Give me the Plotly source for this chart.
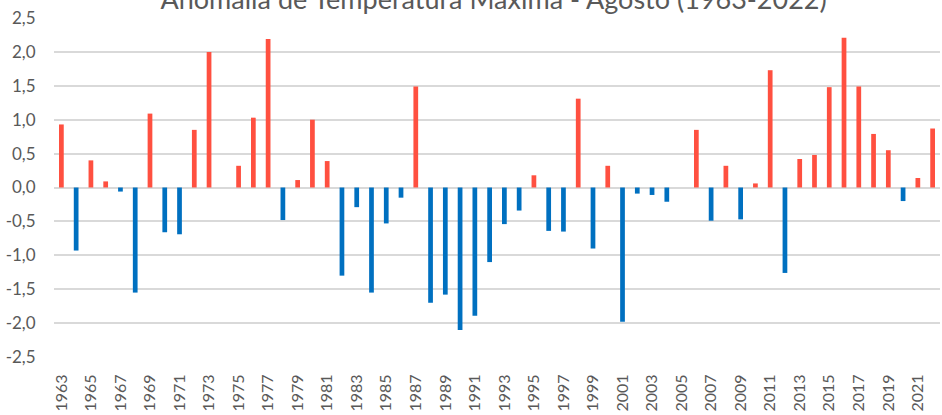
import plotly.graph_objects as go

years = list(range(1963, 2023))
anomalies = [
    0.93, -0.93, 0.40, 0.09, -0.06, -1.55, 1.09, -0.66, -0.69, 0.85,
    2.00, 0.00, 0.32, 1.03, 2.19, -0.48, 0.11, 1.00, 0.39, -1.30,
    -0.29, -1.55, -0.53, -0.15, 1.49, -1.70, -1.58, -2.10, -1.89, -1.10,
    -0.54, -0.34, 0.18, -0.64, -0.65, 1.31, -0.90, 0.32, -1.98, -0.09,
    -0.11, -0.21, 0.00, 0.85, -0.49, 0.32, -0.47, 0.06, 1.73, -1.26,
    0.42, 0.48, 1.48, 2.21, 1.49, 0.79, 0.55, -0.20, 0.14, 0.87,
]
y_ticks = [-2.5, -2.0, -1.5, -1.0, -0.5, 0.0, 0.5, 1.0, 1.5, 2.0, 2.5]
y_tick_labels = [f"{v:.1f}".replace(".", ",") for v in y_ticks]
x_ticks = years[::2]

RED = "#FF5040"
BLUE = "#0070C0"
colors = [RED if v > 0 else BLUE for v in anomalies]

fig = go.Figure(go.Bar(
    x=years, y=anomalies, marker=dict(color=colors, line=dict(width=0)),
    width=0.32,
))

font_family = "Lato, 'Open Sans', sans-serif"
fig.update_layout(
    width=942, height=415,
    margin=dict(l=54, r=2, t=18, b=58),
    paper_bgcolor="white", plot_bgcolor="white",
    showlegend=False,
    font=dict(family=font_family, color="#595959"),
    title=dict(
        text="Anomalia de Temperatura Máxima - Agosto (1963-2022)",
        x=0.524, xanchor="center", xref="container",
        y=1.0, yanchor="middle", yref="container",
        font=dict(size=27, color="#595959", family=font_family),
    ),
    xaxis=dict(
        range=[1962.5, 2022.5],
        tickvals=x_ticks, ticktext=[str(y) for y in x_ticks],
        tickangle=-90, tickfont=dict(size=16, color="#595959"),
        showgrid=False, zeroline=False, showline=False,
        ticks="outside", ticklen=10, tickcolor="rgba(0,0,0,0)",
    ),
    yaxis=dict(
        range=[-2.5, 2.5],
        tickvals=y_ticks, ticktext=y_tick_labels,
        tickfont=dict(size=17, color="#595959"),
        showgrid=True, gridcolor="#D9D9D9", gridwidth=2,
        zeroline=False, showline=False,
        ticks="outside", ticklen=14, tickcolor="rgba(0,0,0,0)",
    ),
)

fig.write_html(
    "out.html",
    config={"displayModeBar": False},
    post_script="document.body.style.margin='0';document.body.style.overflow='hidden';",
)
